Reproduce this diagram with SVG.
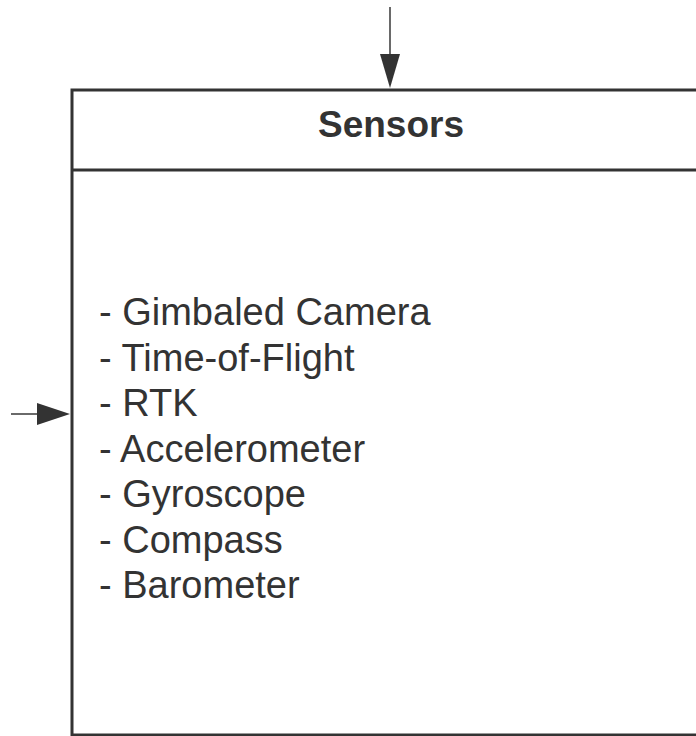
<svg xmlns="http://www.w3.org/2000/svg" width="696" height="736" viewBox="0 0 696 736">
  <style>
    .frame { fill: #ffffff; stroke: #333333; stroke-width: 3; }
    .rule { stroke: #333333; stroke-width: 3; fill: none; }
    .title { font-family: "Liberation Sans", Arial, sans-serif; font-weight: bold; font-size: 37px; fill: #333333; text-anchor: middle; }
    .item { font-family: "Liberation Sans", Arial, sans-serif; font-size: 38px; fill: #333333; }
    .wire { stroke: #444444; stroke-width: 1.6; fill: none; }
    .head { fill: #333333; }
  </style>
  <rect width="696" height="736" fill="#ffffff"/>

  <g id="sensors">
    <rect class="frame" x="72" y="90" width="700" height="645"/>
    <line class="rule" x1="72" y1="170" x2="772" y2="170"/>
    <text class="title" x="391" y="137">Sensors</text>
    <text class="item" x="99" y="325">- Gimbaled Camera</text>
    <text class="item" x="99" y="370.5">- Time-of-Flight</text>
    <text class="item" x="99" y="416">- RTK</text>
    <text class="item" x="99" y="461.5">- Accelerometer</text>
    <text class="item" x="99" y="507">- Gyroscope</text>
    <text class="item" x="99" y="552.5">- Compass</text>
    <text class="item" x="99" y="598">- Barometer</text>
  </g>

  <g id="connectors">
    <line class="wire" x1="390" y1="7" x2="390" y2="56"/>
    <polygon class="head" points="380,54 400,54 390,88"/>
    <line class="wire" x1="11" y1="414" x2="40" y2="414"/>
    <polygon class="head" points="37,403 37,425 70,414"/>
  </g>
</svg>
